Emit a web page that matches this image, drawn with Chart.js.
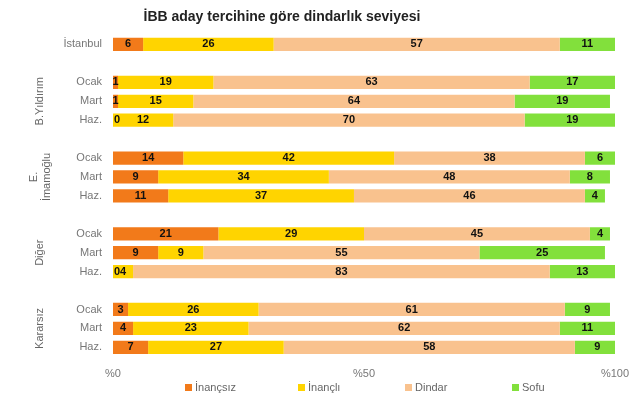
<!DOCTYPE html><html><head><meta charset="utf-8"><script src="https://cdn.jsdelivr.net/npm/chart.js"></script>
<style>body{margin:0;background:#fff}#w{width:640px;height:415px}</style></head><body><div id="w"><canvas id="c"></canvas></div><script>
const categories=['İstanbul','','Ocak','Mart','Haz.','','Ocak','Mart','Haz.','','Ocak','Mart','Haz.','','Ocak','Mart','Haz.'];
const inancsiz=[6,null,1,1,0,null,14,9,11,null,21,9,0,null,3,4,7];
const inancli=[26,null,19,15,12,null,42,34,37,null,29,9,4,null,26,23,27];
const dindar=[57,null,63,64,70,null,38,48,46,null,45,55,83,null,61,62,58];
const sofu=[11,null,17,19,19,null,6,8,4,null,4,25,13,null,9,11,9];
const seriesNames=['İnançsız','İnançlı','Dindar','Sofu'];
const colors=['#f27a1a','#ffd400','#f9c28e','#82e03c'];
const groups=[['B.Yıldırım',3],['E.\nİmamoğlu',7],['Diğer',11],['Kararsız',15]];
const xTicks=[0,50,100];
const font='"Liberation Sans", Arial, sans-serif';
const plug={id:'p',afterDatasetsDraw(ch){const c=ch.ctx;c.save();
c.font='bold 11px '+font;c.textAlign='center';c.textBaseline='middle';c.fillStyle='#111';
ch.data.datasets.forEach((d,i)=>{ch.getDatasetMeta(i).data.forEach((b,j)=>{const v=d.data[j];if(v==null)return;
const x=v===0?b.x+4:(b.x+b.base)/2;c.fillText(v,x,b.y);});});
c.fillStyle='#666';c.font='11px '+font;
groups.forEach(([t,idx])=>{const y=ch.scales.y.getPixelForValue(idx);c.save();c.translate(40,y);c.rotate(-Math.PI/2);
const ls=t.split('\n');ls.forEach((l,k)=>c.fillText(l,0,(k-(ls.length-1)/2)*13));c.restore();});
c.fillStyle='#222';c.font='bold 14px '+font;c.fillText('İBB aday tercihine göre dindarlık seviyesi',282,17);
const lx=[185,298,405,512];c.textAlign='left';c.font='11px '+font;
seriesNames.forEach((n,i)=>{c.fillStyle=colors[i];c.fillRect(lx[i],384,7,7);c.fillStyle='#666';c.fillText(n,lx[i]+10,388);});
c.restore();}};
const mk=(n,d,i)=>({label:n,data:d,backgroundColor:colors[i],barPercentage:0.7,categoryPercentage:1});
new Chart(document.getElementById('c'),{type:'bar',data:{labels:categories,datasets:[mk(seriesNames[0],inancsiz,0),mk(seriesNames[1],inancli,1),mk(seriesNames[2],dindar,2),mk(seriesNames[3],sofu,3)]},
options:{indexAxis:'y',responsive:true,maintainAspectRatio:false,animation:false,
layout:{padding:{top:35,right:25,bottom:31,left:0}},
plugins:{legend:{display:false},tooltip:{enabled:false}},
scales:{x:{stacked:true,min:0,max:100,grid:{display:false},border:{display:false},
afterBuildTicks:s=>{s.ticks=xTicks.map(v=>({value:v}));},
ticks:{callback:v=>'%'+v,color:'#777',font:{family:font,size:11},maxRotation:0}},
y:{stacked:true,grid:{display:false},border:{display:false},afterFit:s=>{s.width=113;},
ticks:{color:'#777',font:{family:font,size:11},autoSkip:false}}}},plugins:[plug]});
</script></body></html>
